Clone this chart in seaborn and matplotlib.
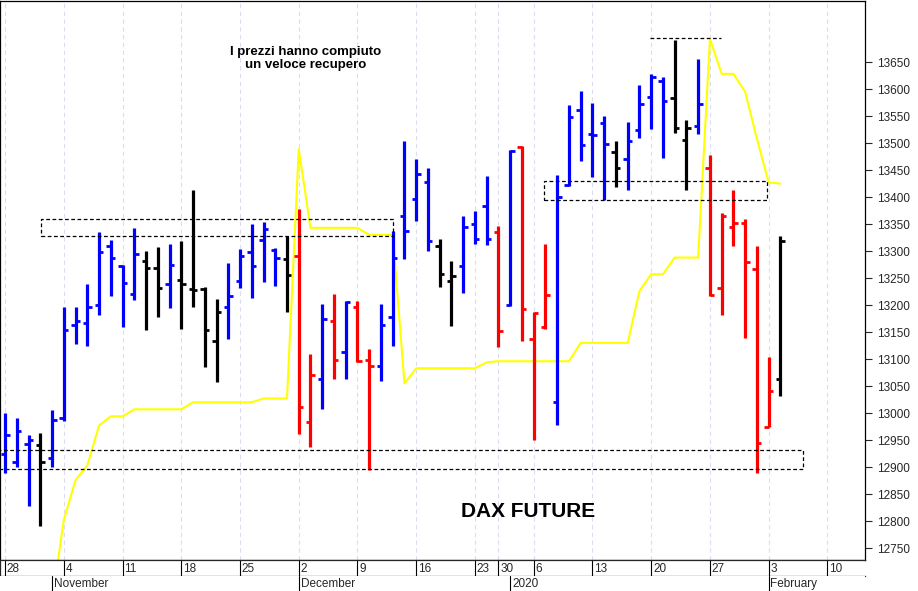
import matplotlib
matplotlib.use("Agg")
import matplotlib.pyplot as plt
import seaborn as sns
import numpy as np
import pandas as pd
from matplotlib.patches import Rectangle

sns.set_style("white")
plt.rcParams['font.family'] = ['Liberation Sans', 'DejaVu Sans']

opens  = [12925,12910,12943,12940,12916,12990,13164,13167,13201,13310,13273,13221,13282,13269,13239,13246,13230,13230,13134,13196,
          13245,13298,13320,13302,13285,13291,12983,13064,13170,13113,13196,13099,13088,13177,13365,13396,13428,13310,13245,13273,
          13350,13384,13335,13201,13493,13137,13159,13021,13423,13562,13516,13537,13484,13471,13524,13586,13615,13583,13506,13532,
          13453,13232,13345,13352,13266,12974,13064]
highs  = [13000,12990,12959,12963,13006,13196,13196,13239,13335,13321,13274,13343,13301,13307,13313,13319,13413,13233,13211,13277,
          13304,13351,13353,13306,13327,13378,13110,13202,13221,13208,13208,13119,13202,13338,13503,13470,13453,13322,13282,13364,
          13374,13439,13347,13487,13495,13187,13313,13440,13570,13596,13575,13551,13503,13539,13607,13627,13622,13690,13542,13656,
          13478,13371,13413,13359,13310,13103,13328]
lows   = [12890,12900,12828,12791,12900,12985,13128,13125,13182,13216,13159,13210,13154,13177,13195,13156,13197,13085,13057,13138,
          13232,13214,13242,13236,13187,12962,12937,13008,13064,13064,13094,12894,13060,13125,13285,13356,13301,13233,13162,13222,
          13314,13312,13123,13199,13134,12951,13156,12978,13420,13466,13437,13394,13419,13413,13510,13526,13473,13519,13413,13516,
          13216,13182,13310,13139,12890,12974,13031]
closes = [12960,12966,12950,12910,12987,13154,13171,13197,13298,13287,13241,13295,13269,13232,13275,13239,13228,13153,13187,13217,
          13291,13272,13340,13288,13255,13011,13070,13174,13099,13205,13096,13088,13164,13288,13338,13442,13319,13258,13253,13345,
          13322,13322,13152,13486,13193,13185,13219,13400,13549,13497,13515,13499,13453,13503,13572,13623,13577,13528,13528,13572,
          13219,13364,13352,13279,12945,13041,13318]
bar_colors = list("bbbkbbbbbbbbkkbkkkkbbbbbkrrbrbrrbbbbbkkbbbrbrrrbbbbbkbbbbkkbrrrrrrk")
stop_line = [np.nan,np.nan,np.nan,np.nan,12650,12802,12876,12903,12977,12994,12994,13007,13007,13007,13007,13007,13020,13020,13020,13020,
             13020,13020,13027,13027,13027,13489,13343,13343,13343,13343,13343,13330,13330,13330,13055,13083,13083,13083,13083,13083,
             13083,13094,13096,13096,13096,13096,13096,13096,13096,13130,13130,13130,13130,13130,13226,13257,13257,13288,13288,13288,
             13693,13628,13628,13595,13508,13427,13425]
day_ticks = [0,5,10,15,20,25,30,35,40,42,45,50,55,60,65,70]
day_labels = ["28","4","11","18","25","2","9","16","23","30","6","13","20","27","3","10"]
month_ticks = [4,25,43,65]
month_labels = ["November","December","2020","February"]
y_ticks = list(range(12750, 13651, 50))

cmap = {'b':'#0000ff','r':'#ff0000','k':'#000000'}
cols = [cmap[c] for c in bar_colors]
x = np.arange(len(opens))

W, H = 918, 591
fig = plt.figure(figsize=(W/100, H/100), dpi=100)
ax = fig.add_axes([0, 31/H, 865/W, 1-31/H-1/H])
ax.set_xlim(-0.43, 73.2)
ax.set_ylim(12728, 13763)

for t in day_ticks:
    ax.axvline(t, color='#dcdcf2', lw=0.8, ls=(0,(4,3)), zorder=0)

ax.vlines(x, lows, highs, colors=cols, lw=2.3, zorder=3)
ax.hlines(opens, x-0.38, x, colors=cols, lw=2.0, zorder=3)
ax.hlines(closes, x, x+0.38, colors=cols, lw=2.0, zorder=3)

df = pd.DataFrame({'i': x, 'v': stop_line})
sns.lineplot(data=df, x='i', y='v', ax=ax, color='#ffff00', lw=1.5, zorder=2)

rects = [(3.1, 13327, 33.0, 13360), (-0.6, 12896, 67.9, 12931), (45.9, 13395, 64.9, 13430)]
for x0, y0, x1, y1 in rects:
    ax.add_patch(Rectangle((x0, y0), x1-x0, y1-y0, fill=False, ls=(0,(3,2)), lw=0.9, ec='black', zorder=4))
ax.hlines(13694, 54.9, 60.9, colors='black', lw=0.9, ls=(0,(3,2)), zorder=4)

ax.text(25.6, 13657, "I prezzi hanno compiuto\nun veloce recupero", ha='center', va='center',
        fontsize=9.5, fontweight='bold', linespacing=1.15, color='black')
ax.text(44.5, 12817, "DAX FUTURE", ha='center', va='center', fontsize=15, fontweight='bold', color='black')

ax.set_xlabel(""); ax.set_ylabel("")
ax.set_xticks([])
ax.yaxis.tick_right()
ax.set_yticks(y_ticks)
ax.set_yticklabels([str(v) for v in y_ticks])
ax.tick_params(axis='y', direction='out', length=5, width=0.8, labelsize=8.5, right=True, pad=4)
for s in ax.spines.values():
    s.set_color('black'); s.set_linewidth(0.9)

axd = fig.add_axes([0, 15/H, 865/W, 16/H])
axd.set_xlim(ax.get_xlim()); axd.set_ylim(0, 1)
axd.set_xticks([]); axd.set_yticks([])
for t, l in zip(day_ticks, day_labels):
    axd.axvline(t, color='black', lw=0.8)
    axd.text(t+0.15, 0.45, l, ha='left', va='center', fontsize=8.5)
for s in axd.spines.values():
    s.set_linewidth(0.9)
axd.spines['right'].set_visible(False)

axm = fig.add_axes([0, 0, 865/W, 15/H])
axm.set_xlim(ax.get_xlim()); axm.set_ylim(0, 1)
axm.set_xticks([]); axm.set_yticks([])
for t, l in zip(month_ticks, month_labels):
    axm.axvline(t, color='black', lw=0.8)
    axm.text(t+0.15, 0.45, l, ha='left', va='center', fontsize=8.5)
for s in axm.spines.values():
    s.set_visible(False)

fig.savefig("out.png", dpi=100)
